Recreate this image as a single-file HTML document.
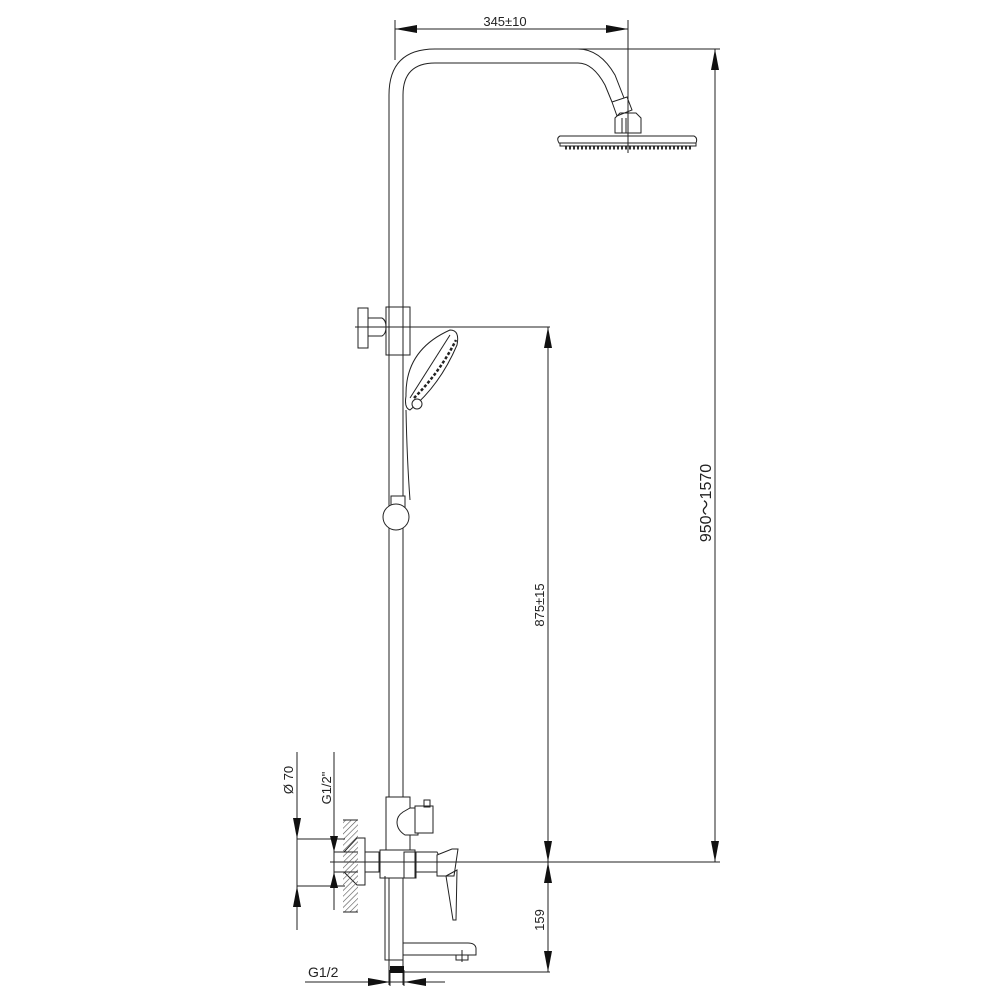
<!DOCTYPE html>
<html><head><meta charset="utf-8"><style>html,body{margin:0;padding:0;background:#fff}svg{display:block}</style></head>
<body>
<svg width="1000" height="1000" viewBox="0 0 1000 1000" xmlns="http://www.w3.org/2000/svg" font-family="Liberation Sans, DejaVu Sans, sans-serif">
<g fill="none" stroke="#222" stroke-width="1">
<!-- top dimension -->
<line x1="395" y1="29" x2="628" y2="29"/>
<line x1="395" y1="20" x2="395" y2="60"/>
<line x1="628" y1="20" x2="628" y2="150"/>
<!-- pipe outer/inner -->
<path d="M389 985 V95 Q389 49 435 49 H578 Q600 49 615 75 L624 98"/>
<path d="M403 985 V95 Q403 63 435 63 H578 Q593 63 605 85 L612 102"/>
<line x1="578" y1="49" x2="720" y2="49"/>
<!-- shower head -->
<path d="M612 102 L627 97 L632 110 L617 116 Z"/>
<path d="M615 118 L620 113 H636 L641 118 V133 H615 Z"/>
<line x1="622" y1="118" x2="622" y2="133"/>
<line x1="626" y1="118" x2="626" y2="133"/>
<path d="M560 136 H694 Q698 138 696 143 H559 Q556 138 560 136 Z"/>
<path d="M560 143 V146 H696 V143"/>
</g>
<line x1="565" y1="148" x2="693" y2="148" stroke="#333" stroke-width="3" stroke-dasharray="2,2"/>
<line x1="628" y1="143" x2="628" y2="153" stroke="#222"/>
<g fill="none" stroke="#222" stroke-width="1">
<!-- 950 dim -->
<line x1="715" y1="49" x2="715" y2="862"/>
<!-- slider -->
<rect x="386" y="307" width="24" height="48" fill="#fff"/>
<line x1="389" y1="307" x2="389" y2="355"/><line x1="403" y1="307" x2="403" y2="355"/>
<rect x="358" y="308" width="10" height="40" fill="#fff"/>
<path d="M368 318 H382 Q386 320 386 327 Q386 334 382 336 H368 Z" fill="#fff"/>
<line x1="355" y1="327" x2="550" y2="327"/>
<!-- hand shower -->
<path d="M406 396 Q405 350 450 330 Q460 330 457 345 Q440 385 410 410 Q404 408 406 396 Z" fill="#fff"/>
<line x1="410" y1="398" x2="450" y2="335"/>
<path d="M414 398 Q440 372 456 340" stroke-width="2.5" stroke-dasharray="3,2"/>
<circle cx="417" cy="404" r="5" fill="#fff"/>
<path d="M406 410 Q407 460 410 500"/>
<path d="M403 410 V500"/>
<line x1="548" y1="327" x2="548" y2="972"/>
<!-- ball -->
<rect x="391" y="496" width="14" height="12" fill="#fff"/>
<circle cx="396" cy="517" r="13" fill="#fff"/>
<!-- mixer -->
<rect x="386" y="797" width="24" height="70" fill="#fff"/>
<path d="M403 812 Q397 816 397 822 Q397 830 405 835 H418 V808 H410 Z" fill="#fff"/>
<rect x="415" y="806" width="18" height="27" fill="#fff"/>
<rect x="424" y="800" width="6" height="7"/>
<path d="M344 852 L357 838 H365 V885 H357 L344 872"/>
<rect x="365" y="852" width="14" height="20" fill="#fff"/>
<rect x="380" y="850" width="35" height="28" fill="#fff"/>
<path d="M415 852 H437 Q442 860 437 872 H415"/>
<rect x="404" y="852" width="12" height="26"/>
<path d="M437 855 L452 849 H458 L454 876 H437 Z" fill="#fff"/>
<path d="M446 876 L457 870 L456 920 L453 920 Z"/>
<path d="M385 876 V960 H403 M403 943 H468 Q475 943 476 948 V955 H403"/>
<rect x="456" y="955" width="12" height="5"/>
<line x1="462" y1="950" x2="462" y2="962"/>
<line x1="330" y1="862" x2="720" y2="862"/>
<line x1="403" y1="972" x2="550" y2="972"/>
<!-- wall hatch -->
<rect x="343" y="820" width="15" height="92" stroke="none" fill="url(#h)"/>
<line x1="343" y1="820" x2="358" y2="820"/><line x1="343" y1="912" x2="358" y2="912"/>
<!-- Ø70 -->
<line x1="297" y1="752" x2="297" y2="930"/>
<line x1="297" y1="839" x2="345" y2="839"/>
<line x1="297" y1="886" x2="345" y2="886"/>
<line x1="334" y1="752" x2="334" y2="910"/>
<line x1="334" y1="852" x2="358" y2="852"/>
<line x1="334" y1="872" x2="358" y2="872"/>
<!-- G1/2 bottom -->
<line x1="305" y1="982" x2="445" y2="982"/>
<line x1="390" y1="970" x2="390" y2="986"/><line x1="404" y1="970" x2="404" y2="986"/>
</g>
<defs><pattern id="h" width="4" height="4" patternUnits="userSpaceOnUse" patternTransform="rotate(45)"><line x1="0" y1="0" x2="0" y2="4" stroke="#555" stroke-width="1.2"/></pattern></defs>
<rect x="390" y="966" width="14" height="7" fill="#111"/>
<!-- arrowheads -->
<g fill="#111">
<polygon points="395,29 417,25 417,33"/><polygon points="628,29 606,25 606,33"/>
<polygon points="715,49 711,70 719,70"/><polygon points="715,862 711,841 719,841"/>
<polygon points="548,327 544,348 552,348"/><polygon points="548,862 544,841 552,841"/>
<polygon points="548,862 544,883 552,883"/><polygon points="548,972 544,951 552,951"/>
<polygon points="297,839 293,818 301,818"/><polygon points="297,886 293,907 301,907"/>
<polygon points="334,852 330,836 338,836"/><polygon points="334,872 330,888 338,888"/>
<polygon points="390,982 368,978 368,986"/><polygon points="404,982 426,978 426,986"/>
</g>
<g fill="#222" font-size="13">
<text x="505" y="26" text-anchor="middle">345±10</text>
<text transform="translate(711,503) rotate(-90)" text-anchor="middle" font-size="16">950～1570</text>
<text transform="translate(544,605) rotate(-90)" text-anchor="middle">875±15</text>
<text transform="translate(544,920) rotate(-90)" text-anchor="middle">159</text>
<text transform="translate(293,780) rotate(-90)" text-anchor="middle">Ø 70</text>
<text transform="translate(331,788) rotate(-90)" text-anchor="middle">G1/2"</text>
<text x="308" y="977" font-size="14">G1/2</text>
</g>
</svg>
</body></html>
